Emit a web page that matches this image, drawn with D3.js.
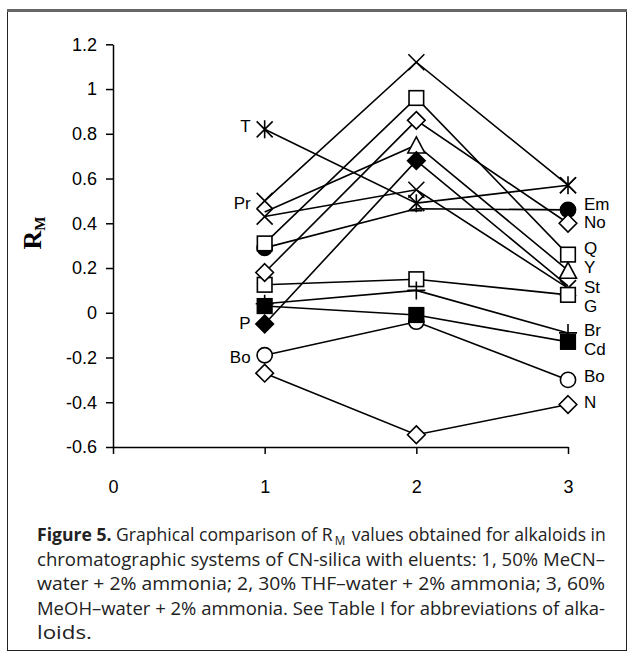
<!DOCTYPE html>
<html><head><meta charset="utf-8">
<script src="https://cdn.jsdelivr.net/npm/d3@7"></script>
<style>body{margin:0;background:#fff}</style>
</head><body><svg id="c" width="634" height="656"></svg>
<script>
// ---------------- data ----------------
const xCategories = [1, 2, 3];
const xTickValues = [0, 1, 2, 3];
const yTickValues = [-0.6, -0.4, -0.2, 0, 0.2, 0.4, 0.6, 0.8, 1, 1.2];

const T  = [0.82, 0.49, 0.57];
const Pr = [0.50, 1.12, 0.57];
const St = [0.43, 0.55, 0.11];
const Y  = [0.45, 0.75, 0.19];
const Em = [0.29, 0.465, 0.46];
const Q  = [0.31, 0.96, 0.26];
const G  = [0.125, 0.15, 0.08];
const No = [0.18, 0.86, 0.40];
const P  = [-0.05, 0.68, 0.12];
const Br = [0.04, 0.10, -0.09];
const Bo = [-0.19, -0.04, -0.30];
const Cd = [0.03, -0.01, -0.13];
const N  = [-0.27, -0.545, -0.41];

const seriesNames   = ["T", "Pr", "St", "Y", "Em", "Q", "G", "No", "P", "Br", "Bo", "Cd", "N"];
const seriesMarkers = ["asterisk", "x", "x", "triangle", "circleFilled", "square", "square",
                       "diamond", "diamondFilled", "plus", "circle", "squareFilled", "diamond"];
const markerOverrides = [["Y", 1, "none"], ["Em", 2, "dash"], ["P", 3, "none"]];

const leftLabels  = ["T", "Pr", "P", "Bo"];
const rightLabels = ["Em", "No", "Q", "Y", "St", "G", "Br", "Cd", "Bo", "N"];

const captionFirst = ["Figure 5.", " Graphical comparison of R", "M", " values obtained for alkaloids in"];
const captionLines = [
  "chromatographic systems of CN-silica with eluents: 1, 50% MeCN–",
  "water + 2% ammonia; 2, 30% THF–water + 2% ammonia; 3, 60%",
  "MeOH–water + 2% ammonia. See Table I for abbreviations of alka-",
  "loids."
];

// ---------------- layout ----------------
const valuesByName = {T, Pr, St, Y, Em, Q, G, No, P, Br, Bo, Cd, N};
const leftNudge  = {T: -3, Pr: 2, P: -1, Bo: 2};
const rightNudge = {Em: -6, No: -1, Q: -7, Y: -3, St: -1, G: 11, Br: -3, Cd: 7, Bo: -4, N: -2};

const svg = d3.select("#c");
svg.append("rect").attr("width", 634).attr("height", 656).attr("fill", "#fff");

// frame
svg.append("rect").attr("x", 7.5).attr("y", 10.5).attr("width", 619).attr("height", 640)
  .attr("fill", "none").attr("stroke", "#222").attr("stroke-width", 1);
svg.append("line").attr("x1", 7).attr("x2", 627).attr("y1", 10.5).attr("y2", 10.5)
  .attr("stroke", "#666").attr("stroke-width", 3);

const x = d3.scaleLinear().domain([0, 3]).range([113, 568]);
const y = d3.scaleLinear().domain([-0.6, 1.2]).range([447, 44.3]);

const fmt = d => String(Math.round(d * 10) / 10);

const yAxis = svg.append("g").attr("transform", "translate(113,0)")
  .call(d3.axisLeft(y).tickValues(yTickValues).tickSize(7).tickSizeOuter(0).tickPadding(9).tickFormat(fmt));
const xAxis = svg.append("g").attr("transform", "translate(0,447)")
  .call(d3.axisBottom(x).tickValues(xTickValues).tickSize(7).tickSizeOuter(0).tickPadding(26).tickFormat(fmt));
[yAxis, xAxis].forEach(a => {
  a.selectAll("path,line").attr("stroke", "#000").attr("stroke-width", 1.5);
  a.selectAll("text").attr("font-family", "'Liberation Sans', Arial, sans-serif")
    .attr("font-size", 18).attr("fill", "#000");
});

// y title R_M
const yt = svg.append("text").attr("transform", "translate(41,233) rotate(-90)")
  .attr("text-anchor", "middle").attr("font-family", "'Liberation Serif', 'Times New Roman', serif")
  .attr("font-weight", "bold").attr("fill", "#000");
yt.append("tspan").attr("font-size", 26).text("R");
yt.append("tspan").attr("font-size", 15).attr("dy", 4).text("M");

// lines
const line = d3.line().x((d, i) => x(xCategories[i])).y(d => y(d));
const plot = svg.append("g");
seriesNames.forEach(name => {
  plot.append("path").attr("d", line(valuesByName[name]))
    .attr("fill", "none").attr("stroke", "#000").attr("stroke-width", 1.6);
});

// markers
function drawMarker(g, type, cx, cy) {
  const sw = 1.6;
  if (type === "none") return;
  if (type === "square" || type === "squareFilled") {
    const h = 7.3;
    g.append("rect").attr("x", cx - h).attr("y", cy - h).attr("width", 2 * h).attr("height", 2 * h)
      .attr("fill", type === "square" ? "#fff" : "#000").attr("stroke", "#000").attr("stroke-width", sw);
  } else if (type === "diamond" || type === "diamondFilled") {
    const h = 8.8;
    g.append("path").attr("d", `M${cx},${cy - h}L${cx + h},${cy}L${cx},${cy + h}L${cx - h},${cy}Z`)
      .attr("fill", type === "diamond" ? "#fff" : "#000").attr("stroke", "#000").attr("stroke-width", sw);
  } else if (type === "circle" || type === "circleFilled") {
    g.append("circle").attr("cx", cx).attr("cy", cy).attr("r", 7.6)
      .attr("fill", type === "circle" ? "#fff" : "#000").attr("stroke", "#000").attr("stroke-width", sw);
  } else if (type === "triangle") {
    const w = 8.5, h = 8;
    g.append("path").attr("d", `M${cx},${cy - h}L${cx + w},${cy + h}L${cx - w},${cy + h}Z`)
      .attr("fill", "#fff").attr("stroke", "#000").attr("stroke-width", sw);
  } else if (type === "x" || type === "asterisk") {
    const h = 8;
    let d = `M${cx - h},${cy - h}L${cx + h},${cy + h}M${cx - h},${cy + h}L${cx + h},${cy - h}`;
    if (type === "asterisk") d += `M${cx},${cy - h - 1}L${cx},${cy + h + 1}`;
    g.append("path").attr("d", d).attr("fill", "none").attr("stroke", "#000").attr("stroke-width", sw);
  } else if (type === "plus") {
    const h = 9;
    g.append("path").attr("d", `M${cx - h},${cy}L${cx + h},${cy}M${cx},${cy - h}L${cx},${cy + h}`)
      .attr("fill", "none").attr("stroke", "#000").attr("stroke-width", sw);
  } else if (type === "dash") {
    const h = 6;
    g.append("path").attr("d", `M${cx - h},${cy + 2}L${cx + h},${cy + 2}`)
      .attr("fill", "none").attr("stroke", "#000").attr("stroke-width", sw);
  }
}
seriesNames.forEach((name, si) => {
  valuesByName[name].forEach((v, i) => {
    const ov = markerOverrides.find(o => o[0] === name && o[1] === xCategories[i]);
    drawMarker(plot, ov ? ov[2] : seriesMarkers[si], x(xCategories[i]), y(v));
  });
});

// point labels
const labelFont = "'Liberation Sans', Arial, sans-serif";
leftLabels.forEach(name => {
  svg.append("text").attr("x", x(1) - 14).attr("y", y(valuesByName[name][0]) + leftNudge[name])
    .attr("dy", "0.35em").attr("text-anchor", "end").attr("font-family", labelFont)
    .attr("font-size", 17).attr("fill", "#000").text(name);
});
rightLabels.forEach(name => {
  svg.append("text").attr("x", x(3) + 16).attr("y", y(valuesByName[name][2]) + rightNudge[name])
    .attr("dy", "0.35em").attr("text-anchor", "start").attr("font-family", labelFont)
    .attr("font-size", 17).attr("fill", "#000").text(name);
});

// caption
const capFont = "'Liberation Sans Narrow', 'Open Sans', 'Liberation Sans', sans-serif";
const capX = 37, capBase = 541, capStep = 24.5;
// first line: pieces laid out at natural width inside a horizontally scaled group
{
  const target = 569, gap = 2;
  const g1 = svg.append("g");
  const pieces = captionFirst.map((s, k) => {
    const t = g1.append("text").attr("y", k === 2 ? 4 : 0)
      .attr("font-family", capFont).attr("font-size", k === 2 ? 12 : 18).attr("fill", "#222")
      .attr("font-weight", k === 0 ? "bold" : "normal").attr("xml:space", "preserve")
      .style("white-space", "pre").text(s);
    return {t, w: t.node().getComputedTextLength()};
  });
  let cx = 0;
  pieces.forEach((p, k) => {
    p.t.attr("x", cx);
    cx += p.w + (k === 1 || k === 2 ? gap : 0);
  });
  const sc = target / cx;
  g1.attr("transform", `translate(${capX},${capBase}) scale(${sc},1)`);
}
const capWidths = [568, 568, 568, 55];
captionLines.forEach((txt, i) => {
  svg.append("text").attr("x", capX).attr("y", capBase + (i + 1) * capStep)
    .attr("font-family", capFont).attr("font-size", 18).attr("fill", "#222")
    .attr("textLength", capWidths[i]).attr("lengthAdjust", "spacingAndGlyphs")
    .text(txt);
});
</script></body></html>
